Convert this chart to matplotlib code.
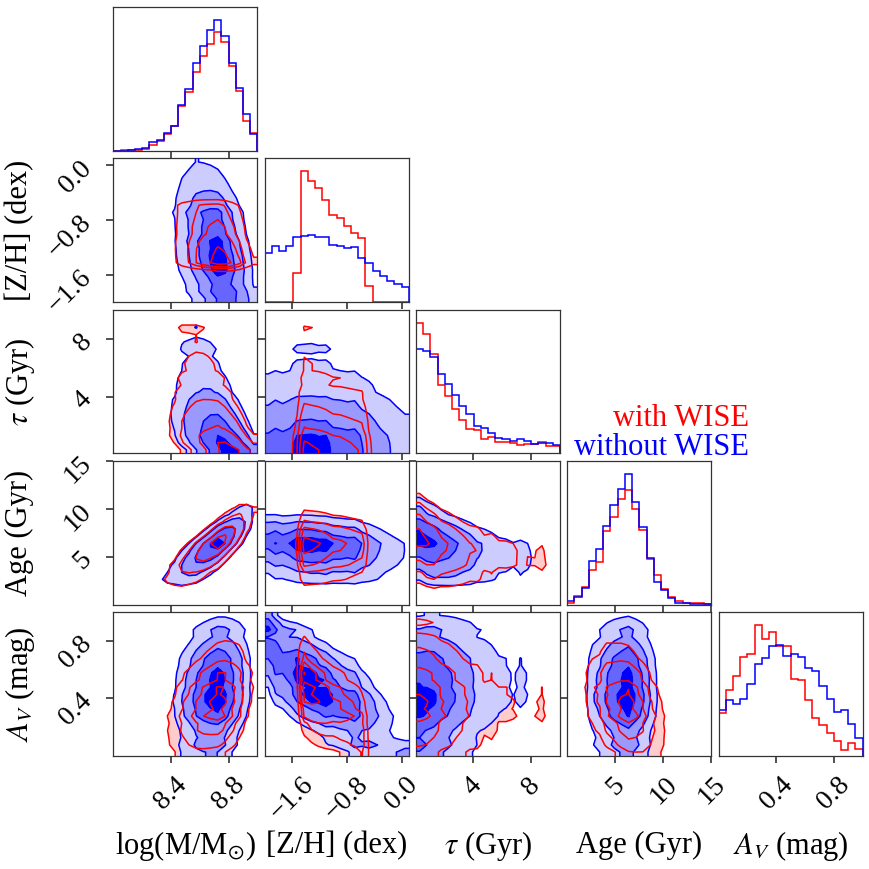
import math
import numpy as np
import matplotlib
matplotlib.use("Agg")
import matplotlib.pyplot as plt
from matplotlib.gridspec import GridSpec

plt.rcParams['font.family'] = ['Liberation Serif', 'DejaVu Serif']
plt.rcParams['mathtext.fontset'] = 'stix'

# ---------------- data ----------------
param_labels = ["log(M/M$_{\\odot}$)", "[Z/H] (dex)", "$\\tau$ (Gyr)", "Age (Gyr)", "$A_V$ (mag)"]
param_ranges = [(8.0, 9.0), (-2.0, 0.1), (0.1, 10.0), (0.0, 15.0), (0.0, 1.0)]
param_ticks = [[8.4, 8.8], [-1.6, -0.8, 0.0], [4, 8], [5, 10, 15], [0.4, 0.8]]
param_ticklabels = [["8.4", "8.8"], ["\u22121.6", "\u22120.8", "0.0"], ["4", "8"],
                    ["5", "10", "15"], ["0.4", "0.8"]]

# 1D marginal histograms, 20 bins each (arbitrary units)
hist_mass_wise   = [1, 5, 5, 5, 8, 18, 32, 51, 77, 135, 176, 236, 284, 320, 356, 327, 255, 180, 92, 56]
hist_mass_nowise = [2, 2, 5, 8, 11, 29, 35, 56, 77, 137, 185, 263, 314, 362, 392, 345, 263, 188, 113, 51]
hist_zh_wise     = [0, 0, 0, 0, 89, 392, 365, 344, 308, 263, 254, 230, 209, 192, 48, 0, 0, 0, 0, 0]
hist_zh_nowise   = [149, 170, 155, 170, 197, 200, 203, 195, 197, 173, 170, 162, 167, 132, 117, 95, 78, 65, 54, 45]
hist_tau_wise    = [392, 357, 299, 206, 173, 132, 101, 74, 71, 44, 50, 35, 35, 32, 26, 29, 29, 35, 21, 21]
hist_tau_nowise  = [314, 308, 290, 239, 209, 176, 143, 119, 83, 75, 62, 47, 44, 37, 44, 38, 27, 32, 32, 26]
hist_age_wise    = [5, 27, 53, 104, 128, 222, 263, 317, 345, 287, 225, 138, 89, 47, 22, 10, 5, 4, 4, 1]
hist_age_nowise  = [11, 24, 51, 131, 168, 236, 299, 347, 393, 309, 233, 141, 68, 44, 20, 6, 4, 2, 2, 1]
hist_av_wise     = [127, 196, 238, 295, 304, 391, 349, 370, 328, 328, 230, 227, 167, 113, 91, 67, 43, 16, 37, 20]
hist_av_nowise   = [136, 167, 154, 170, 214, 273, 292, 327, 330, 298, 304, 295, 261, 253, 208, 170, 130, 136, 94, 53]

hists_wise = [hist_mass_wise, hist_zh_wise, hist_tau_wise, hist_age_wise, hist_av_wise]
hists_nowise = [hist_mass_nowise, hist_zh_nowise, hist_tau_nowise, hist_age_nowise, hist_av_nowise]

# pairwise correlation (estimated from the 2D panels)
pairs      = [(0, 1), (0, 2), (0, 3), (0, 4), (1, 2), (1, 3), (1, 4), (2, 3), (2, 4), (3, 4)]
rho_wise   = [-0.15, -0.50, 0.80, 0.30, 0.00, 0.00, -0.45, -0.35, 0.00, -0.30]
rho_nowise = [-0.30, -0.50, 0.80, 0.15, 0.00, -0.15, -0.55, -0.35, 0.10, 0.00]

series_names = ["with WISE", "without WISE"]

# ---------------- helpers ----------------
z_tab = np.linspace(-6, 6, 4001)
cdf_tab = 0.5 * (1 + np.vectorize(math.erf)(z_tab / math.sqrt(2)))
levels = 1 - np.exp(-0.5 * np.arange(0.5, 2.1, 0.5) ** 2)


def marginal(h):
    p = np.asarray(h, float)
    p = p / p.sum()
    F = np.cumsum(p) - 0.5 * p
    F = np.clip(F, cdf_tab[0], cdf_tab[-1])
    return p, np.interp(F, cdf_tab, z_tab)


def density2d(hx, hy, r):
    px, a = marginal(hx)
    py, b = marginal(hy)
    A, B = np.meshgrid(a, b, indexing='ij')
    c = np.exp(-(r * r * (A * A + B * B) - 2 * r * A * B) / (2 * (1 - r * r))) / np.sqrt(1 - r * r)
    return np.outer(px, py) * c


def contour_levels(H):
    Hflat = np.sort(H.ravel())[::-1]
    sm = np.cumsum(Hflat)
    sm /= sm[-1]
    V = np.empty(len(levels))
    for i, v0 in enumerate(levels):
        idx = np.where(sm <= v0)[0]
        V[i] = Hflat[idx[-1]] if len(idx) else Hflat[0]
    V.sort()
    for i in range(1, len(V)):
        if V[i] <= V[i - 1]:
            V[i] = V[i - 1] * (1 + 1e-6) + 1e-12
    return V


def padded(H, xr, yr):
    n, m = H.shape
    ex = np.linspace(xr[0], xr[1], n + 1)
    ey = np.linspace(yr[0], yr[1], m + 1)
    X1 = 0.5 * (ex[1:] + ex[:-1])
    Y1 = 0.5 * (ey[1:] + ey[:-1])
    dx, dy = X1[1] - X1[0], Y1[1] - Y1[0]
    X2 = np.concatenate([X1[0] + np.array([-2, -1]) * dx, X1, X1[-1] + np.array([1, 2]) * dx])
    Y2 = np.concatenate([Y1[0] + np.array([-2, -1]) * dy, Y1, Y1[-1] + np.array([1, 2]) * dy])
    H2 = np.zeros((n + 4, m + 4))
    H2[2:-2, 2:-2] = H
    H2[2:-2, 1] = H[:, 0]
    H2[2:-2, -2] = H[:, -1]
    H2[1, 2:-2] = H[0]
    H2[-2, 2:-2] = H[-1]
    H2[1, 1] = H[0, 0]
    H2[1, -2] = H[0, -1]
    H2[-2, 1] = H[-1, 0]
    H2[-2, -2] = H[-1, -1]
    return X2, Y2, H2


# ---------------- figure ----------------
fig = plt.figure(figsize=(8.69, 8.69), dpi=100)
gs = GridSpec(5, 5, figure=fig, left=0.1304, right=0.9927, bottom=0.1304, top=0.9916,
              wspace=0.05, hspace=0.05)

spine_col = '#333333'
blue_fill = ['#ccccff', '#9999ff', '#6666ff', '#0000ff']
red_fill = ['#ffcccc']
N = 5


def style(ax, row, col, diag):
    for s in ax.spines.values():
        s.set_color(spine_col)
        s.set_linewidth(0.9)
    ax.tick_params(direction='out', length=5, width=1.2, color=spine_col,
                   labelsize=20, pad=7)
    ax.set_xlim(param_ranges[col])
    ax.set_xticks(param_ticks[col])
    if row == N - 1:
        ax.set_xticklabels(param_ticklabels[col], rotation=45)
        ax.set_xlabel(param_labels[col], fontsize=22)
        ax.xaxis.set_label_coords(0.5, -0.625)
        ax.xaxis.label.set_va('center')
    else:
        ax.set_xticklabels([])
    if diag:
        ax.set_yticks([])
    else:
        ax.set_ylim(param_ranges[row])
        ax.set_yticks(param_ticks[row])
        if col == 0:
            ax.set_yticklabels(param_ticklabels[row], rotation=45)
            ax.set_ylabel(param_labels[row], fontsize=22)
            ax.yaxis.set_label_coords(-0.65, 0.5)
            ax.yaxis.label.set_va('center')
        else:
            ax.set_yticklabels([])


for i in range(N):
    ax = fig.add_subplot(gs[i, i])
    edges = np.linspace(param_ranges[i][0], param_ranges[i][1], len(hists_wise[i]) + 1)
    ax.stairs(hists_wise[i], edges, color='r', lw=1.1)
    ax.stairs(hists_nowise[i], edges, color='b', lw=1.1)
    ax.set_ylim(0, 1.1 * max(max(hists_wise[i]), max(hists_nowise[i])))
    style(ax, i, i, True)

for k, (cx, ry) in enumerate(pairs):
    ax = fig.add_subplot(gs[ry, cx])
    Hr = density2d(hists_wise[cx], hists_wise[ry], rho_wise[k])
    Hb = density2d(hists_nowise[cx], hists_nowise[ry], rho_nowise[k])
    Vr = contour_levels(Hr)
    Vb = contour_levels(Hb)
    Xr, Yr, H2r = padded(Hr, param_ranges[cx], param_ranges[ry])
    Xb, Yb, H2b = padded(Hb, param_ranges[cx], param_ranges[ry])
    ax.contourf(Xr, Yr, H2r.T, [Vr[0], Hr.max() * 1.0001], colors=red_fill, zorder=1)
    ax.contourf(Xb, Yb, H2b.T, np.concatenate([Vb, [Hb.max() * 1.0001]]),
                colors=blue_fill, zorder=2)
    ax.contour(Xb, Yb, H2b.T, Vb, colors='b', linewidths=1.1, zorder=3)
    ax.contour(Xr, Yr, H2r.T, Vr, colors='r', linewidths=1.1, zorder=4)
    style(ax, ry, cx, False)

fig.text(749.3 / 869, 1 - 426 / 869, series_names[0], color='r', fontsize=22,
         ha='right', va='baseline')
fig.text(749.3 / 869, 1 - 455 / 869, series_names[1], color='b', fontsize=22,
         ha='right', va='baseline')

fig.savefig("out.png", dpi=100)
